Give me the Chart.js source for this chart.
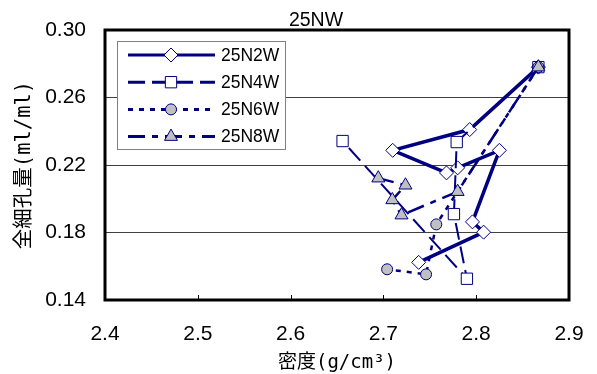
<!DOCTYPE html>
<html>
<head>
<meta charset="utf-8">
<script src="https://cdn.jsdelivr.net/npm/chart.js@4/dist/chart.umd.min.js"></script>
<style>
  body { margin: 0; background: #ffffff; }
  #chart_wrapper { width: 597px; height: 374px; }
</style>
</head>
<body>
<div id="chart_wrapper"><canvas id="myChart" width="597" height="374"></canvas></div>
<script>
let chartTitle = "25NW";
let xTitle = "密度(g/cm³)";
let yTitle = "全細孔量(ml/ml)";
let xTicks = [2.4, 2.5, 2.6, 2.7, 2.8, 2.9];
let yTicks = [0.14, 0.18, 0.22, 0.26, 0.30];
let seriesNames = ["25N2W", "25N4W", "25N6W", "25N8W"];

// 各シリーズ（密度, 全細孔量）
let n2wDensity = [2.867, 2.793, 2.710, 2.768, 2.780, 2.825, 2.796, 2.808, 2.738];
let n2wPore = [0.278, 0.241, 0.2287, 0.2153, 0.2183, 0.2287, 0.1863, 0.1802, 0.1623];
let n4wDensity = [2.867, 2.779, 2.776, 2.790, 2.656];
let n4wPore = [0.278, 0.2336, 0.1909, 0.1526, 0.2342];
let n6wDensity = [2.867, 2.757, 2.746, 2.704];
let n6wPore = [0.278, 0.1848, 0.1552, 0.1582];
let n8wDensity = [2.867, 2.780, 2.7195, 2.7096, 2.7238, 2.6945];
let n8wPore = [0.278, 0.2042, 0.1903, 0.1993, 0.208, 0.2122];

let lineColor = "#000080";
let markerGrey = "#c0c0c0";
let tickFont = { family: "'Liberation Sans', Arial, sans-serif", size: 21 };
let titleFamily = "'DejaVu Sans Mono', 'Noto Sans CJK JP', monospace";

function toPoints(xs, ys) {
  return xs.map((x, i) => ({ x: x, y: ys[i] }));
}

function makeDataset(label, xs, ys, opts) {
  return Object.assign({
    label: label,
    data: toPoints(xs, ys),
    showLine: true,
    fill: false,
    borderColor: lineColor,
    pointBorderColor: lineColor,
    pointBorderWidth: 1,
    pointHoverRadius: 0,
    borderCapStyle: "butt",
    tension: 0,
  }, opts);
}

let datasets = [
  makeDataset(seriesNames[0], n2wDensity, n2wPore, {
    borderWidth: 3.5, borderDash: [], pointStyle: "rectRot", pointRadius: 7,
    pointBackgroundColor: "#ffffff", order: 4,
  }),
  makeDataset(seriesNames[1], n4wDensity, n4wPore, {
    borderWidth: 2, borderDash: [17, 7], pointStyle: "rect", pointRadius: 8,
    pointBackgroundColor: "#ffffff", order: 3,
  }),
  makeDataset(seriesNames[2], n6wDensity, n6wPore, {
    borderWidth: 2.5, borderDash: [5, 6], pointStyle: "circle", pointRadius: 5.5,
    pointBackgroundColor: markerGrey, order: 2,
  }),
  makeDataset(seriesNames[3], n8wDensity, n8wPore, {
    borderWidth: 2.5, borderDash: [17, 7, 6, 7], pointStyle: "triangle", pointRadius: 7.5,
    pointBackgroundColor: markerGrey, order: 1,
  }),
];

// 凡例用マーカー描画
function drawMarker(ctx, style, r, x, y) {
  ctx.beginPath();
  if (style === "rectRot") {
    ctx.moveTo(x - r, y); ctx.lineTo(x, y - r); ctx.lineTo(x + r, y); ctx.lineTo(x, y + r);
    ctx.closePath();
  } else if (style === "rect") {
    const s = r * Math.SQRT1_2;
    ctx.rect(x - s, y - s, 2 * s, 2 * s);
  } else if (style === "circle") {
    ctx.arc(x, y, r, 0, Math.PI * 2);
  } else if (style === "triangle") {
    ctx.moveTo(x, y - r);
    ctx.lineTo(x + r * Math.sin(Math.PI * 2 / 3), y - r * Math.cos(Math.PI * 2 / 3));
    ctx.lineTo(x - r * Math.sin(Math.PI * 2 / 3), y - r * Math.cos(Math.PI * 2 / 3));
    ctx.closePath();
  }
  ctx.fill();
  ctx.stroke();
}

// 枠・タイトル・凡例
const framePlugin = {
  id: "frame",
  afterDraw(chart) {
    const ctx = chart.ctx;
    const a = chart.chartArea;
    const xs = chart.scales.x;
    ctx.save();

    // x軸の内向き目盛
    ctx.strokeStyle = "#000000";
    ctx.lineWidth = 1;
    xTicks.forEach((v) => {
      const px = Math.round(xs.getPixelForValue(v)) + 0.5;
      ctx.beginPath();
      ctx.moveTo(px, a.bottom);
      ctx.lineTo(px, a.bottom - 5);
      ctx.stroke();
    });

    // プロットエリア枠
    ctx.lineWidth = 3;
    ctx.strokeRect(a.left, a.top, a.right - a.left, a.bottom - a.top);

    // タイトル
    ctx.fillStyle = "#000000";
    ctx.font = "19.5px 'Liberation Sans', Arial, sans-serif";
    ctx.textAlign = "center";
    ctx.textBaseline = "alphabetic";
    ctx.fillText(chartTitle, 316, 25.5);

    // 凡例
    const bx = a.left + 12, by = a.top + 11, bw = 168, bh = 108;
    ctx.fillStyle = "#ffffff";
    ctx.fillRect(bx, by, bw, bh);
    ctx.strokeStyle = "#808080";
    ctx.lineWidth = 1;
    ctx.strokeRect(bx + 0.5, by + 0.5, bw, bh);

    chart.data.datasets.forEach((ds, i) => {
      const ly = by + 14 + i * 27.2;
      ctx.strokeStyle = ds.borderColor;
      ctx.lineWidth = 3;
      ctx.lineCap = "butt";
      ctx.setLineDash(ds.borderDash);
      ctx.beginPath();
      ctx.moveTo(bx + 11, ly);
      ctx.lineTo(bx + 98, ly);
      ctx.stroke();
      ctx.setLineDash([]);
      ctx.lineWidth = 1;
      ctx.fillStyle = ds.pointBackgroundColor;
      ctx.strokeStyle = ds.pointBorderColor;
      drawMarker(ctx, ds.pointStyle, ds.pointRadius, bx + 54, ly);
      ctx.fillStyle = "#000000";
      ctx.font = "17.5px 'Liberation Sans', Arial, sans-serif";
      ctx.textAlign = "left";
      ctx.textBaseline = "middle";
      ctx.fillText(ds.label, bx + 104, ly + 1);
    });

    ctx.restore();
  },
};

let config = {
  type: "scatter",
  data: { datasets: datasets },
  options: {
    responsive: false,
    animation: false,
    devicePixelRatio: 1,
    layout: { padding: { top: 30, right: 28, left: 0, bottom: 0 } },
    plugins: {
      legend: { display: false },
      tooltip: { enabled: false },
      title: { display: false },
    },
    scales: {
      x: {
        type: "linear",
        min: 2.4,
        max: 2.9,
        afterBuildTicks: (scale) => { scale.ticks = xTicks.map((v) => ({ value: v })); },
        afterFit: (scale) => { scale.height = 74; scale.paddingLeft = 0; scale.paddingRight = 0; },
        grid: { display: false },
        border: { display: false },
        ticks: {
          color: "#000000",
          font: tickFont,
          padding: 14,
          maxRotation: 0,
          callback: (v) => v.toFixed(1),
        },
        title: {
          display: true,
          text: xTitle,
          color: "#000000",
          font: { family: titleFamily, size: 19 },
          padding: { top: 0, bottom: 0 },
        },
      },
      y: {
        type: "linear",
        min: 0.14,
        max: 0.30,
        afterBuildTicks: (scale) => { scale.ticks = yTicks.map((v) => ({ value: v })); },
        afterFit: (scale) => { scale.width = 105; scale.paddingTop = 0; scale.paddingBottom = 0; },
        grid: { color: "#404040", lineWidth: 1, drawTicks: false },
        border: { display: false },
        ticks: {
          color: "#000000",
          font: tickFont,
          padding: 19,
          callback: (v) => v.toFixed(2),
        },
        title: {
          display: true,
          text: yTitle,
          color: "#000000",
          font: { family: titleFamily, size: 20.5 },
          padding: { top: 12, bottom: 0 },
        },
      },
    },
  },
  plugins: [framePlugin],
};

window.onload = function () {
  let ctx = document.getElementById("myChart").getContext("2d");
  window.myChart = new Chart(ctx, config);
};
</script>
</body>
</html>
